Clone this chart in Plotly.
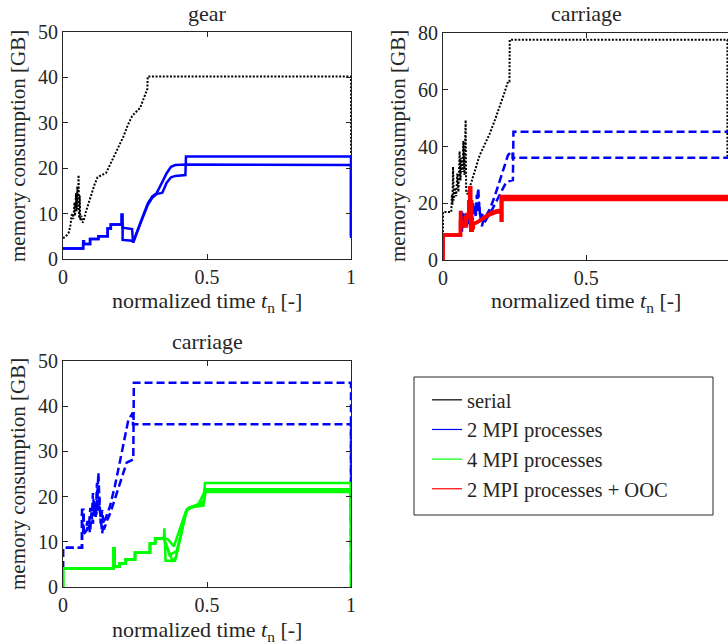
import plotly.graph_objects as go

W, H = 728, 644
FONT = "Liberation Serif, Times New Roman, serif"
AX = "#262626"

# ---------------- gear: serial run ----------------
gear_serial_t = [0.000, 0.010, 0.020, 0.026, 0.030, 0.034, 0.036, 0.040, 0.042, 0.045, 0.047,
                 0.050, 0.052, 0.054, 0.056, 0.058, 0.060, 0.064, 0.068, 0.072, 0.080, 0.090,
                 0.100, 0.110, 0.120, 0.135, 0.150, 0.165, 0.180, 0.195, 0.210, 0.225, 0.240,
                 0.255, 0.268, 0.280, 0.290, 0.293, 0.294, 1.000, 1.000]
gear_serial_v = [4.6, 5.0, 5.8, 7.5, 9.6, 10.0, 8.8, 12.5, 9.5, 14.5, 10.5,
                 16.0, 11.0, 18.5, 9.0, 14.0, 8.5, 9.5, 8.0, 8.5, 10.5, 12.5,
                 15.0, 16.5, 18.0, 18.5, 19.0, 21.0, 23.0, 25.0, 27.0, 29.5, 31.5,
                 32.5, 33.3, 35.3, 37.2, 37.5, 40.2, 40.2, 5.0]

# ---------------- gear: 2 MPI processes (one trace per process) ----------------
gear_mpi2_a_t = [0.000, 0.070, 0.070, 0.073, 0.073, 0.094, 0.094, 0.123, 0.123, 0.155, 0.155,
                 0.166, 0.166, 0.203, 0.203, 0.207, 0.207, 0.245, 0.270, 0.295, 0.310, 0.325,
                 0.345, 0.360, 0.375, 0.390, 0.430, 1.000, 1.000]
gear_mpi2_a_v = [2.3, 2.3, 3.9, 3.9, 3.3, 3.3, 4.4, 4.4, 5.0, 5.0, 6.7,
                 6.7, 7.6, 7.6, 9.8, 9.8, 4.2, 4.0, 8.2, 12.3, 13.8, 14.5,
                 17.0, 18.9, 20.3, 20.7, 20.8, 20.7, 4.6]
gear_mpi2_b_t = [0.000, 0.070, 0.070, 0.094, 0.094, 0.123, 0.123, 0.155, 0.155, 0.166, 0.166,
                 0.207, 0.207, 0.240, 0.243, 0.245, 0.270, 0.295, 0.310, 0.325, 0.345, 0.360,
                 0.375, 0.390, 0.425, 0.427, 1.000, 1.000]
gear_mpi2_b_v = [2.3, 2.3, 3.3, 3.3, 4.4, 4.4, 5.0, 5.0, 6.7, 6.7, 7.6,
                 7.6, 6.9, 6.6, 3.8, 3.8, 8.0, 12.0, 13.5, 14.3, 14.6, 16.8,
                 18.0, 18.3, 18.5, 22.6, 22.6, 5.0]

# ---------------- carriage: serial run ----------------
car_serial_t = [0.000, 0.000, 0.029, 0.031, 0.033, 0.035, 0.038, 0.042, 0.046, 0.050, 0.054,
                0.058, 0.061, 0.064, 0.068, 0.071, 0.075, 0.079, 0.081, 0.086, 0.093, 0.100,
                0.110, 0.128, 0.145, 0.163, 0.180, 0.198, 0.213, 0.227, 0.232, 0.233, 0.993, 0.993]
car_serial_v = [9.8, 16.9, 16.9, 23.0, 19.5, 32.8, 21.0, 25.5, 22.5, 30.5, 24.0,
                38.3, 28.0, 36.0, 31.0, 42.0, 30.0, 49.3, 24.0, 23.2, 25.5, 27.5,
                31.0, 36.9, 40.5, 44.5, 49.0, 54.0, 58.5, 62.9, 62.9, 77.6, 77.6, 36.0]

# ---------------- carriage: 2 MPI processes ----------------
car_mpi2_a_t = [0.000, 0.000, 0.066, 0.066, 0.072, 0.072, 0.080, 0.085, 0.090, 0.095, 0.100,
                0.104, 0.108, 0.112, 0.116, 0.120, 0.123, 0.127, 0.132, 0.136, 0.142, 0.150,
                0.163, 0.180, 0.200, 0.215, 0.227, 0.240, 0.243, 0.243, 1.000, 1.000]
car_mpi2_a_v = [4.0, 8.7, 8.7, 17.1, 17.1, 12.3, 13.0, 14.6, 13.5, 17.5, 15.0,
                20.8, 17.0, 18.5, 16.0, 21.0, 25.3, 17.9, 15.0, 11.9, 14.5, 15.5,
                17.8, 22.3, 28.5, 33.0, 37.0, 38.3, 38.0, 36.0, 36.0, 3.0]
car_mpi2_b_t = [0.000, 0.000, 0.066, 0.066, 0.070, 0.070, 0.082, 0.088, 0.094, 0.099, 0.104,
                0.109, 0.114, 0.118, 0.122, 0.126, 0.131, 0.136, 0.142, 0.148, 0.155, 0.165,
                0.175, 0.190, 0.204, 0.221, 0.244, 0.246, 1.000, 1.000]
car_mpi2_b_v = [4.0, 8.7, 8.7, 16.0, 16.0, 11.5, 12.5, 14.0, 12.0, 16.5, 14.0,
                19.0, 15.5, 23.0, 16.5, 20.0, 14.0, 17.0, 12.7, 14.0, 15.0, 16.5,
                18.5, 21.5, 24.5, 27.5, 28.2, 45.2, 45.2, 14.0]

# ---------------- carriage: 2 MPI processes + OOC ----------------
car_ooc_a_t = [0.000, 0.000, 0.061, 0.061, 0.064, 0.064, 0.078, 0.078, 0.086, 0.086, 0.093,
               0.093, 0.097, 0.097, 0.102, 0.102, 0.115, 0.130, 0.145, 0.170, 0.190, 0.203,
               0.203, 1.000]
car_ooc_a_v = [0.0, 8.85, 8.85, 17.4, 17.4, 12.7, 12.7, 14.9, 14.9, 15.5, 15.5,
               25.5, 25.5, 10.5, 10.5, 13.0, 13.0, 14.0, 15.3, 16.9, 17.4, 17.5,
               22.4, 22.4]
car_ooc_b_t = [0.000, 0.000, 0.061, 0.061, 0.066, 0.066, 0.082, 0.082, 0.090, 0.090, 0.100,
               0.100, 0.106, 0.106, 0.120, 0.140, 0.160, 0.185, 0.203, 0.203, 0.206, 0.206,
               1.000]
car_ooc_b_v = [0.0, 8.85, 8.85, 13.5, 13.5, 12.0, 12.0, 16.0, 16.0, 20.5, 20.5,
               11.4, 11.4, 12.8, 13.3, 14.5, 15.8, 16.8, 17.0, 14.0, 14.0, 21.3,
               21.3]

# ---------------- carriage: 4 MPI processes ----------------
car_mpi4_start_t = [0.000, 0.000, 0.176, 0.176, 0.179, 0.179, 0.197, 0.197, 0.218, 0.218,
                    0.250, 0.250, 0.302, 0.302, 0.320, 0.320, 0.350]
car_mpi4_start_v = [0.0, 4.15, 4.15, 8.6, 8.6, 4.5, 4.5, 5.2, 5.2, 6.1,
                    6.1, 7.6, 7.6, 9.7, 9.7, 10.8, 10.8]
car_mpi4_a_t = [0.352, 0.356, 0.389, 0.410, 0.429, 0.450, 0.487, 0.493, 1.000, 1.000]
car_mpi4_a_v = [13.0, 5.8, 5.8, 11.5, 17.1, 17.8, 18.5, 23.0, 23.0, 9.0]
car_mpi4_b_t = [0.380, 0.392, 0.425, 0.440, 0.488, 0.493, 1.000, 1.000]
car_mpi4_b_v = [5.8, 6.5, 16.5, 17.6, 18.0, 21.6, 21.6, 0.0]
car_mpi4_c_t = [0.365, 0.385, 0.420, 0.435, 0.470, 0.493, 1.000, 1.000]
car_mpi4_c_v = [10.5, 9.0, 15.5, 17.5, 18.3, 21.3, 21.3, 16.0]
car_mpi4_d_t = [0.370, 0.395, 0.430, 0.460, 0.490, 0.495, 1.000, 1.000]
car_mpi4_d_v = [7.0, 8.0, 17.0, 18.0, 19.0, 21.0, 21.0, 0.0]

legend_names = ["serial", "2 MPI processes", "4 MPI processes", "2 MPI processes + OOC"]
legend_colors = ["#000000", "#0000ff", "#00ff00", "#ff0000"]

BLACK, BLUE, GREEN, RED = legend_colors
DOT = "2px,1.6px"
DASH = "8px,4px"

fig = go.Figure()


def add(ax, t, v, color, width, dash="solid"):
    fig.add_trace(go.Scatter(
        x=t, y=v, mode="lines", xaxis="x" + ax, yaxis="y" + ax,
        line=dict(color=color, width=width, dash=dash),
        showlegend=False, hoverinfo="skip"))


# gear
add("", gear_serial_t, gear_serial_v, BLACK, 2.0, DOT)
add("", gear_mpi2_a_t, gear_mpi2_a_v, BLUE, 2.5)
add("", gear_mpi2_b_t, gear_mpi2_b_v, BLUE, 2.5)

# carriage: serial, 2 MPI, 2 MPI + OOC
add("2", car_serial_t, car_serial_v, BLACK, 2.0, DOT)
add("2", car_mpi2_a_t, car_mpi2_a_v, BLUE, 2.5, DASH)
add("2", car_mpi2_b_t, car_mpi2_b_v, BLUE, 2.5, DASH)
add("2", car_ooc_a_t, car_ooc_a_v, RED, 3.5)
add("2", car_ooc_b_t, car_ooc_b_v, RED, 3.5)

# carriage: 2 MPI vs 4 MPI
add("3", car_mpi2_a_t, car_mpi2_a_v, BLUE, 2.5, DASH)
add("3", car_mpi2_b_t, car_mpi2_b_v, BLUE, 2.5, DASH)
for tail_t, tail_v in [(car_mpi4_a_t, car_mpi4_a_v), (car_mpi4_b_t, car_mpi4_b_v),
                       (car_mpi4_c_t, car_mpi4_c_v), (car_mpi4_d_t, car_mpi4_d_v)]:
    add("3", car_mpi4_start_t + tail_t, car_mpi4_start_v + tail_v, GREEN, 2.5)

# legend entries
for name, color in zip(legend_names, legend_colors):
    fig.add_trace(go.Scatter(x=[None], y=[None], mode="lines", name=name,
                             line=dict(color=color, width=1.2)))


def px_x(p):
    return p / W


def px_y(p):
    return 1 - p / H


tickfont = dict(family=FONT, size=20, color=AX)


def xax(domain, anchor, rng, tickvals):
    return dict(domain=domain, anchor=anchor, range=rng, tickvals=tickvals,
                ticktext=[("%g" % v) for v in tickvals], automargin=False,
                showline=True, linecolor=AX, linewidth=1, mirror="ticks",
                ticks="inside", ticklen=5, tickcolor=AX, showgrid=False, zeroline=False,
                tickfont=tickfont, fixedrange=True)


def yax(domain, anchor, rng, tickvals, mirror="ticks"):
    return dict(domain=domain, anchor=anchor, range=rng, tickvals=tickvals, automargin=False,
                showline=True, linecolor=AX, linewidth=1, mirror=mirror,
                ticks="inside", ticklen=5, tickcolor=AX, showgrid=False, zeroline=False,
                tickfont=tickfont, fixedrange=True)


fig.update_layout(
    template="none",
    width=W, height=H, margin=dict(l=0, r=0, t=0, b=0, pad=0, autoexpand=False),
    paper_bgcolor="white", plot_bgcolor="white",
    font=dict(family=FONT, size=20, color=AX),
    xaxis=xax([px_x(63), px_x(351)], "y", [0, 1], [0, 0.5, 1]),
    yaxis=yax([px_y(259), px_y(32)], "x", [0, 50], [0, 10, 20, 30, 40, 50]),
    xaxis2=xax([px_x(443), 1.0], "y2", [0, 0.995], [0, 0.5]),
    yaxis2=yax([px_y(260), px_y(33)], "x2", [0, 80], [0, 20, 40, 60, 80], mirror=False),
    xaxis3=xax([px_x(63), px_x(351)], "y3", [0, 1], [0, 0.5, 1]),
    yaxis3=yax([px_y(587), px_y(361)], "x3", [0, 50], [0, 10, 20, 30, 40, 50]),
    showlegend=True,
    legend=dict(x=px_x(427), y=px_y(380), xanchor="left", yanchor="top",
                bgcolor="rgba(0,0,0,0)", borderwidth=0,
                font=dict(family=FONT, size=20.5, color=AX)),
    shapes=[dict(type="rect", xref="paper", yref="paper",
                 x0=px_x(414), x1=px_x(713), y0=px_y(515), y1=px_y(377),
                 line=dict(color=AX, width=1), fillcolor="rgba(0,0,0,0)")],
)

ylabel = "memory consumption [GB]"
xlabel = "normalized time <i>t</i><sub>n</sub> [-]"
annotations = [
    dict(text="gear", x=px_x(207), y=px_y(13), size=22),
    dict(text="carriage", x=px_x(586), y=px_y(13), size=22),
    dict(text="carriage", x=px_x(207), y=px_y(342), size=22),
    dict(text=xlabel, x=px_x(207), y=px_y(302), size=22),
    dict(text=xlabel, x=px_x(586), y=px_y(302), size=22),
    dict(text=xlabel, x=px_x(207), y=px_y(631), size=22),
    dict(text=ylabel, x=px_x(18), y=px_y(146), textangle=-90, size=21),
    dict(text=ylabel, x=px_x(398), y=px_y(146), textangle=-90, size=21),
    dict(text=ylabel, x=px_x(18), y=px_y(474), textangle=-90, size=21),
]
for a in annotations:
    size = a.pop("size")
    a.update(xref="paper", yref="paper", xanchor="center", yanchor="middle",
             showarrow=False, font=dict(family=FONT, size=size, color=AX))
fig.update_layout(annotations=annotations)

fig.write_html("out.html", config={"displayModeBar": False})
